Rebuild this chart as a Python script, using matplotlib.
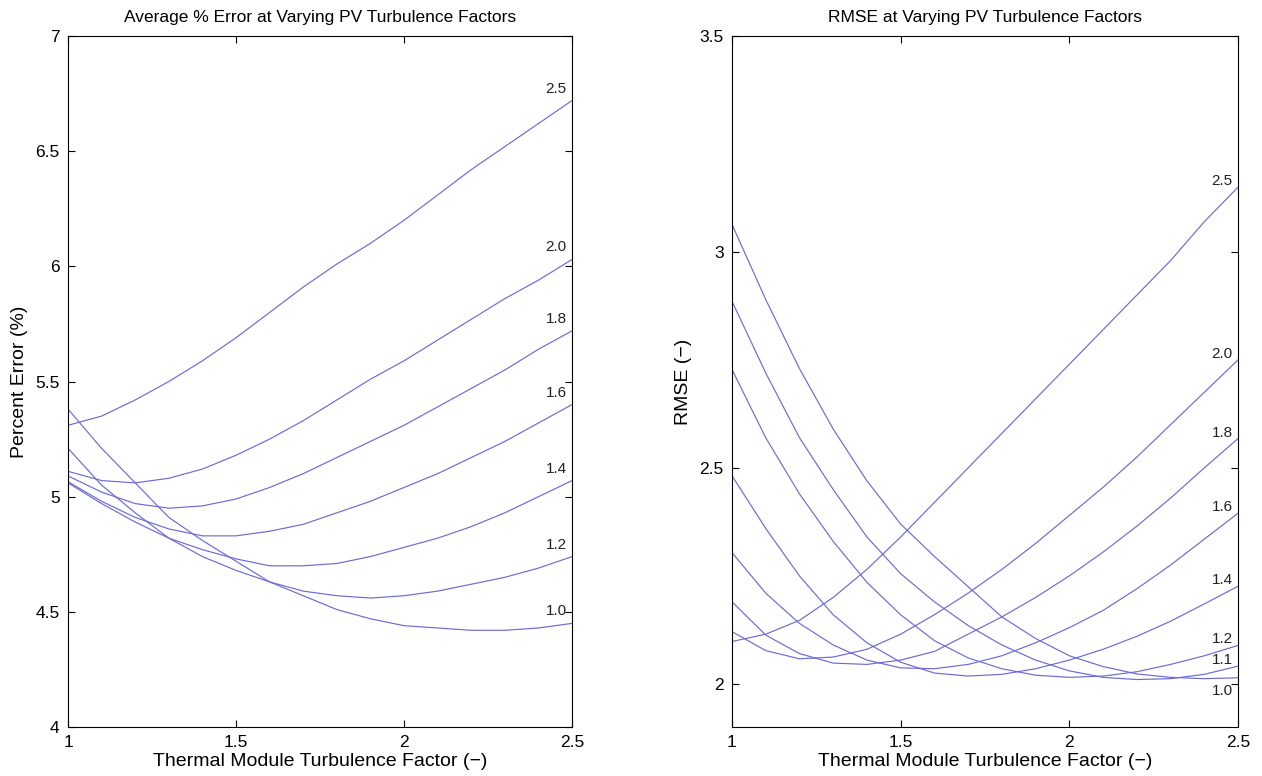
import matplotlib
matplotlib.use("Agg")
import matplotlib.pyplot as plt

plt.rcParams['font.family'] = ['Liberation Sans', 'DejaVu Sans']

# thermal module turbulence factor (x for both panels)
thermal = [1.0, 1.1, 1.2, 1.3, 1.4, 1.5, 1.6, 1.7, 1.8, 1.9, 2.0, 2.1, 2.2, 2.3, 2.4, 2.5]

# average percent error, one series per PV turbulence factor
err_pv = ["1.0", "1.2", "1.4", "1.6", "1.8", "2.0", "2.5"]
err_10 = [5.38, 5.21, 5.06, 4.91, 4.81, 4.72, 4.63, 4.57, 4.51, 4.47, 4.44, 4.43, 4.42, 4.42, 4.43, 4.45]
err_12 = [5.21, 5.05, 4.93, 4.82, 4.74, 4.68, 4.63, 4.59, 4.57, 4.56, 4.57, 4.59, 4.62, 4.65, 4.69, 4.74]
err_14 = [5.06, 4.97, 4.89, 4.82, 4.77, 4.73, 4.70, 4.70, 4.71, 4.74, 4.78, 4.82, 4.87, 4.93, 5.00, 5.07]
err_16 = [5.065, 4.98, 4.91, 4.86, 4.83, 4.83, 4.85, 4.88, 4.93, 4.98, 5.04, 5.10, 5.17, 5.24, 5.32, 5.40]
err_18 = [5.09, 5.02, 4.97, 4.95, 4.96, 4.99, 5.04, 5.10, 5.17, 5.24, 5.31, 5.39, 5.47, 5.55, 5.64, 5.72]
err_20 = [5.11, 5.07, 5.06, 5.08, 5.12, 5.18, 5.25, 5.33, 5.42, 5.51, 5.59, 5.68, 5.77, 5.86, 5.94, 6.03]
err_25 = [5.31, 5.35, 5.42, 5.50, 5.59, 5.69, 5.80, 5.91, 6.01, 6.10, 6.20, 6.31, 6.42, 6.52, 6.62, 6.72]
err_series = [err_10, err_12, err_14, err_16, err_18, err_20, err_25]

# RMSE, one series per PV turbulence factor
rmse_pv = ["1.0", "1.1", "1.2", "1.4", "1.6", "1.8", "2.0", "2.5"]
rmse_10 = [3.064, 2.89, 2.73, 2.59, 2.47, 2.37, 2.295, 2.225, 2.155, 2.105, 2.065, 2.04, 2.023, 2.015, 2.012, 2.014]
rmse_11 = [2.886, 2.72, 2.57, 2.45, 2.34, 2.255, 2.19, 2.135, 2.09, 2.055, 2.03, 2.015, 2.01, 2.012, 2.022, 2.041]
rmse_12 = [2.728, 2.57, 2.44, 2.33, 2.235, 2.16, 2.10, 2.06, 2.035, 2.02, 2.015, 2.018, 2.028, 2.045, 2.065, 2.089]
rmse_14 = [2.482, 2.36, 2.25, 2.16, 2.095, 2.05, 2.025, 2.018, 2.022, 2.035, 2.055, 2.08, 2.11, 2.145, 2.185, 2.226]
rmse_16 = [2.304, 2.21, 2.14, 2.09, 2.055, 2.037, 2.035, 2.045, 2.065, 2.095, 2.13, 2.17, 2.22, 2.275, 2.335, 2.395]
rmse_18 = [2.19, 2.113, 2.07, 2.048, 2.045, 2.055, 2.075, 2.115, 2.155, 2.20, 2.25, 2.305, 2.365, 2.43, 2.50, 2.568]
rmse_20 = [2.121, 2.077, 2.058, 2.062, 2.08, 2.115, 2.16, 2.21, 2.265, 2.325, 2.39, 2.455, 2.525, 2.60, 2.675, 2.75]
rmse_25 = [2.098, 2.115, 2.147, 2.20, 2.265, 2.34, 2.42, 2.50, 2.58, 2.66, 2.74, 2.82, 2.90, 2.98, 3.07, 3.15]
rmse_series = [rmse_10, rmse_11, rmse_12, rmse_14, rmse_16, rmse_18, rmse_20, rmse_25]

LINE = "#6b6bd6"


def style_axes(ax):
    ax.tick_params(direction='in', top=True, right=True, length=5, width=0.8,
                   labelsize=12.5, pad=6)
    for s in ax.spines.values():
        s.set_linewidth(0.8)


def draw_panel(ax, series, names, label_dy):
    for ys, name in zip(series, names):
        ax.plot(thermal, ys, color=LINE, lw=0.85)
        ax.annotate(name, xy=(thermal[-1], ys[-1]), xytext=(-16, label_dy.get(name, 8)),
                    textcoords='offset pixels', ha='center', va='center',
                    fontsize=11, color='#222222')


fig = plt.figure(figsize=(12.62, 7.76), dpi=100)
ax1 = fig.add_axes([0.0539, 0.0631, 0.3994, 0.8905])
ax2 = fig.add_axes([0.5800, 0.0631, 0.4010, 0.8905])

draw_panel(ax1, err_series, err_pv, {n: 12 for n in err_pv})
ax1.set_xlim(1, 2.5)
ax1.set_ylim(4, 7)
ax1.set_xticks([1, 1.5, 2, 2.5])
ax1.set_xticklabels(["1", "1.5", "2", "2.5"])
ax1.set_yticks([4, 4.5, 5, 5.5, 6, 6.5, 7])
ax1.set_yticklabels(["4", "4.5", "5", "5.5", "6", "6.5", "7"])
ax1.set_title("Average % Error at Varying PV Turbulence Factors", fontsize=12.5, pad=10)
ax1.set_xlabel("Thermal Module Turbulence Factor (\u2212)", fontsize=14, labelpad=2)
ax1.set_ylabel("Percent Error (%)", fontsize=14, labelpad=5)
style_axes(ax1)

rmse_dy = {n: 6 for n in rmse_pv}
rmse_dy["1.0"] = -13
draw_panel(ax2, rmse_series, rmse_pv, rmse_dy)
ax2.set_xlim(1, 2.5)
ax2.set_ylim(1.9, 3.5)
ax2.set_xticks([1, 1.5, 2, 2.5])
ax2.set_xticklabels(["1", "1.5", "2", "2.5"])
ax2.set_yticks([2, 2.5, 3, 3.5])
ax2.set_yticklabels(["2", "2.5", "3", "3.5"])
ax2.set_title("RMSE at Varying PV Turbulence Factors", fontsize=12.5, pad=10)
ax2.set_xlabel("Thermal Module Turbulence Factor (\u2212)", fontsize=14, labelpad=2)
ax2.set_ylabel("RMSE (\u2212)", fontsize=14, labelpad=5)
style_axes(ax2)

fig.savefig("out.png", dpi=100)
